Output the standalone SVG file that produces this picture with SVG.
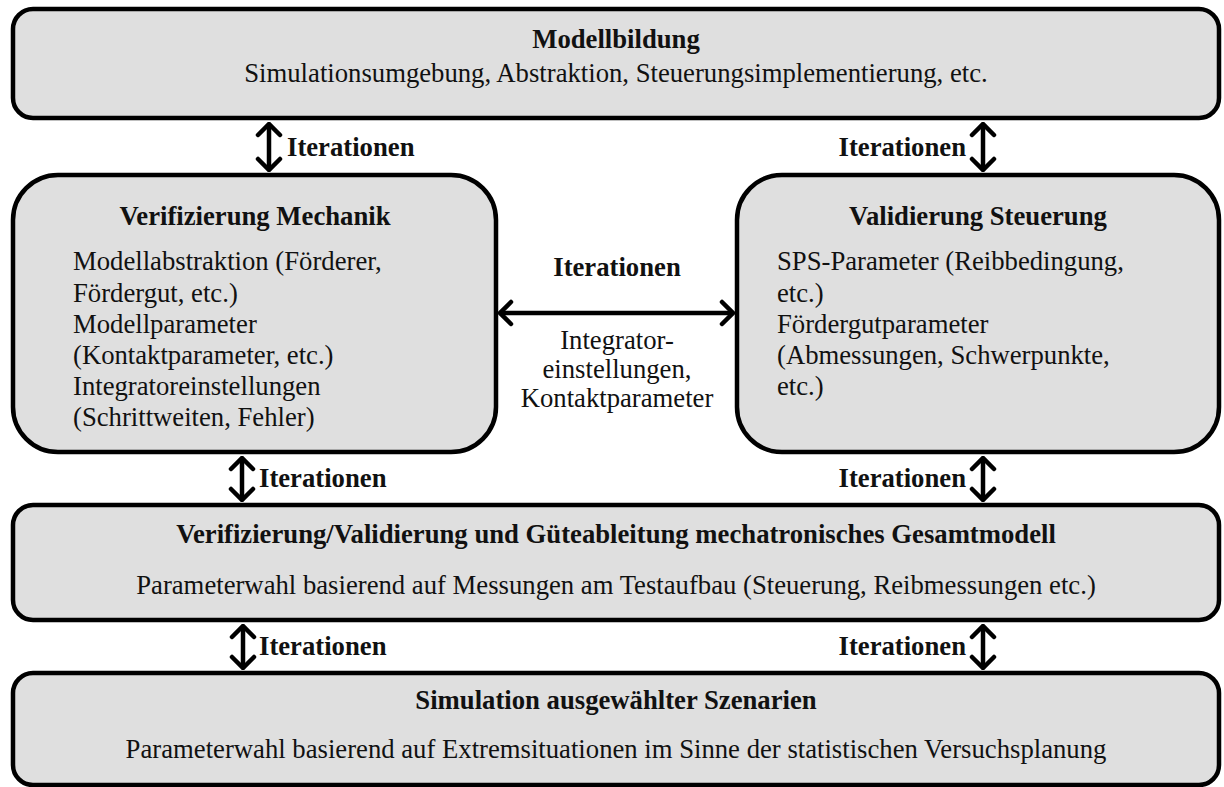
<svg xmlns="http://www.w3.org/2000/svg" width="1224" height="787" viewBox="0 0 1224 787">
  <defs>
    <style>
      .box { fill: #dfdfdf; stroke: #000; stroke-width: 4.5; }
      .t { font-family: "Liberation Serif", "Times New Roman", serif; font-size: 26.7px; fill: #111; }
      .b { font-weight: bold; }
      .c { text-anchor: middle; }
      .e { text-anchor: end; }
      .link { fill: none; stroke: #000; stroke-width: 4.5; marker-start: url(#chev); marker-end: url(#chev); }
    </style>
    <!-- open chevron head used at both ends of every iteration link -->
    <marker id="chev" viewBox="-14 -14 16 28" markerWidth="16" markerHeight="28" refX="0" refY="0" markerUnits="userSpaceOnUse" orient="auto-start-reverse">
      <path d="M-11,-11 L0,0 L-11,11" fill="none" stroke="#000" stroke-width="4.5" stroke-linecap="round" stroke-linejoin="miter"/>
    </marker>
  </defs>

  <rect width="1224" height="787" fill="#fff"/>

  <!-- connectors -->
  <g id="connectors">
    <line class="link" x1="269" y1="124" x2="269" y2="170"/>
    <line class="link" x1="983" y1="124" x2="983" y2="170"/>
    <line class="link" x1="500" y1="313" x2="733" y2="313"/>
    <line class="link" x1="242" y1="458" x2="242" y2="500"/>
    <line class="link" x1="983" y1="458" x2="983" y2="500"/>
    <line class="link" x1="243" y1="626" x2="243" y2="668"/>
    <line class="link" x1="983" y1="626" x2="983" y2="668"/>
    <text class="t b" x="287" y="156">Iterationen</text>
    <text class="t b e" x="966" y="156">Iterationen</text>
    <text class="t b c" x="617" y="276">Iterationen</text>
    <text class="t c" x="617" y="349">Integrator-</text>
    <text class="t c" x="617" y="378">einstellungen,</text>
    <text class="t c" x="617" y="407">Kontaktparameter</text>
    <text class="t b" x="259" y="487">Iterationen</text>
    <text class="t b e" x="966" y="487">Iterationen</text>
    <text class="t b" x="259" y="655">Iterationen</text>
    <text class="t b e" x="966" y="655">Iterationen</text>
  </g>

  <g id="modellbildung">
    <rect class="box" x="13" y="9" width="1206" height="109" rx="20"/>
    <text class="t b c" x="616" y="48">Modellbildung</text>
    <text class="t c" x="616" y="82">Simulationsumgebung, Abstraktion, Steuerungsimplementierung, etc.</text>
  </g>

  <g id="verifizierung-mechanik">
    <rect class="box" x="13" y="175" width="483" height="277" rx="45"/>
    <text class="t b c" x="255" y="225">Verifizierung Mechanik</text>
    <text class="t" x="73" y="270">Modellabstraktion (Förderer,</text>
    <text class="t" x="73" y="301.5">Fördergut, etc.)</text>
    <text class="t" x="73" y="333">Modellparameter</text>
    <text class="t" x="73" y="364">(Kontaktparameter, etc.)</text>
    <text class="t" x="73" y="395">Integratoreinstellungen</text>
    <text class="t" x="73" y="426">(Schrittweiten, Fehler)</text>
  </g>

  <g id="validierung-steuerung">
    <rect class="box" x="737" y="175" width="482" height="277" rx="45"/>
    <text class="t b c" x="978" y="225">Validierung Steuerung</text>
    <text class="t" x="777" y="270">SPS-Parameter (Reibbedingung,</text>
    <text class="t" x="777" y="301.5">etc.)</text>
    <text class="t" x="777" y="333">Fördergutparameter</text>
    <text class="t" x="777" y="364">(Abmessungen, Schwerpunkte,</text>
    <text class="t" x="777" y="395">etc.)</text>
  </g>

  <g id="gesamtmodell">
    <rect class="box" x="13" y="505" width="1206" height="115" rx="20"/>
    <text class="t b c" x="616" y="543">Verifizierung/Validierung und Güteableitung mechatronisches Gesamtmodell</text>
    <text class="t c" x="616" y="594">Parameterwahl basierend auf Messungen am Testaufbau (Steuerung, Reibmessungen etc.)</text>
  </g>

  <g id="simulation">
    <rect class="box" x="13" y="673" width="1206" height="112" rx="20"/>
    <text class="t b c" x="616" y="709">Simulation ausgewählter Szenarien</text>
    <text class="t c" x="616" y="758">Parameterwahl basierend auf Extremsituationen im Sinne der statistischen Versuchsplanung</text>
  </g>
</svg>
